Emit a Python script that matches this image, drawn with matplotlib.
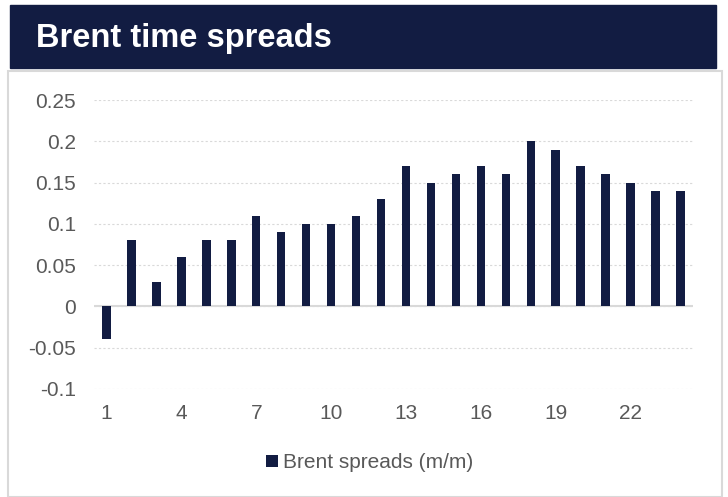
import matplotlib.pyplot as plt
from matplotlib.patches import Rectangle

months = list(range(1, 25))
spreads = [-0.04, 0.08, 0.03, 0.06, 0.08, 0.08, 0.11, 0.09, 0.10, 0.10, 0.11, 0.13,
           0.17, 0.15, 0.16, 0.17, 0.16, 0.20, 0.19, 0.17, 0.16, 0.15, 0.14, 0.14]
y_ticks = [-0.1, -0.05, 0, 0.05, 0.1, 0.15, 0.2, 0.25]
y_labels = ["-0.1", "-0.05", "0", "0.05", "0.1", "0.15", "0.2", "0.25"]
x_ticks = [1, 4, 7, 10, 13, 16, 19, 22]

navy = "#121c42"
text_grey = "#595959"
W, H = 728, 497

plt.rcParams["font.family"] = ["Liberation Sans", "DejaVu Sans"]
fig = plt.figure(figsize=(W / 100, H / 100), dpi=100)

# header band and chart frame
fig.patches.append(Rectangle((10 / W, 1 - 68 / H), 706 / W, 63 / H,
                             transform=fig.transFigure, color=navy, zorder=0))
fig.patches.append(Rectangle((8 / W, 0), 714 / W, 1 - 71 / H,
                             transform=fig.transFigure, facecolor="white",
                             edgecolor="#d9d9d9", linewidth=1.5, zorder=0))
fig.text(36 / W, 1 - 38 / H, "Brent time spreads", color="white",
         fontsize=23.5, fontweight="bold", va="center", ha="left")

ax = fig.add_axes([94 / W, 1 - 389 / H, 599 / W, 289 / H])
ax.set_zorder(2)
ax.patch.set_alpha(0)
ax.bar(months, spreads, width=0.34, color=navy, zorder=3,
       label="Brent spreads (m/m)")
ax.set_xlim(0.5, 24.5)
ax.set_ylim(-0.1, 0.25)
ax.set_yticks(y_ticks, y_labels)
ax.set_xticks(x_ticks, [str(t) for t in x_ticks])
ax.tick_params(length=0, labelsize=15, labelcolor=text_grey, pad=13)
ax.tick_params(axis="x", pad=11)
for spine in ax.spines.values():
    spine.set_visible(False)
ax.grid(axis="y", color="#d9d9d9", linestyle=(0, (2, 2)), linewidth=0.8, zorder=0)
ax.axhline(0, color="#d9d9d9", linewidth=1.5, zorder=2)

ax.legend(loc="center", bbox_to_anchor=(0.46, -0.255), frameon=False,
          fontsize=15, labelcolor=text_grey, handlelength=0.55, handleheight=0.55,
          handletextpad=0.25)

fig.savefig("out.png", dpi=100)
